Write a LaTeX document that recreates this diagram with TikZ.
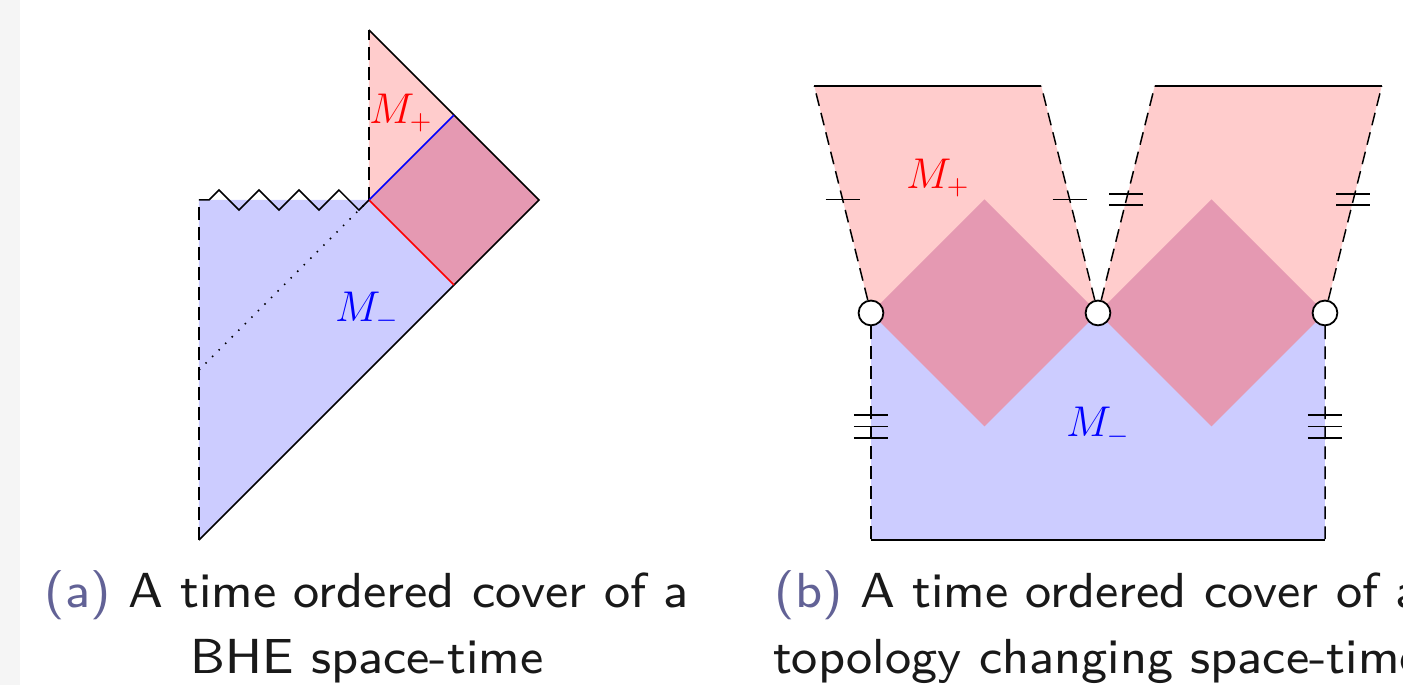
\documentclass[tikz,border=0pt]{standalone}
\usetikzlibrary{calc}
\definecolor{capcol}{RGB}{98,98,150}
\newcommand{\legtxt}[1]{\scalebox{2.06}{\fontsize{8}{10}\selectfont\sffamily #1}}
\begin{document}
\begin{tikzpicture}[line width=0.5pt]
    \useasboundingbox (-2.341,-1.706) rectangle (14.165,6.353);
    \fill[gray!8] (-2.341,-1.706) rectangle (-2.106,6.353);

    \tikzstyle{bord}=[dash pattern=on 4.3pt off 2.4pt]
    \tikzstyle{pointille}=[dash pattern=on 0.5pt off 2.6pt]
    \tikzstyle{lab}=[font=\fontsize{13.4}{16}\selectfont]
    \tikzstyle{legende}=[text=black!90,inner sep=0pt,anchor=base]
    \tikzstyle{trou}=[circle,draw,fill=white,line width=0.6pt,inner sep=0pt,minimum size=8.3pt]
    \tikzstyle{marque}=[line width=0.6pt]

    %%%%%%%%%%%%%%%%%%%%%%%%%%%%%%%%%%%%%% (a) BHE
    \fill[blue!20] (0,0)--(0,4)--(2,4)--(3,3)--cycle;
    \fill[red!20] (2,4)--(2,6)--(3,5)--cycle;
    \fill[purple!40] (2,4)--(3,5)--(4,4)--(3,3)--cycle;

    \draw[bord] (0,0)--(0,4);
    \draw[bord] (2,4)--(2,6);
    \draw (0,0)--(4,4)--(2,6);
    \draw[blue] (2,4)--(3,5);
    \draw[red] (2,4)--(3,3);
    \draw[pointille] (0,2)--(2,4);
    \draw (0,4)--(0.1176,4) \foreach \k in {1,...,4}{ --++(0.1176,0.1176) --++(0.2353,-0.2353) --++(0.1176,0.1176)};

    \node[lab,red] (mpa) at (2.376,5.024) {$M_+$};
    \node[lab,blue] (mma) at (1.976,2.694) {$M_-$};

    %%%%%%%%%%%%%%%%%%%%%%%%%%%%%%%%%%%%%% (b) topologie
    \begin{scope}[shift={(7.906,2.671)},scale=1.3353]
    \fill[blue!20] (0,0) rectangle (4,-2);
    \fill[red!20] (0,0)--(-0.5,2)--(1.5,2)--(2,0)--cycle;
    \fill[red!20] (2,0)--(2.5,2)--(4.5,2)--(4,0)--cycle;
    \fill[purple!40] (0,0)--(1,1)--(2,0)--(1,-1)--cycle;
    \fill[purple!40] (2,0)--(3,1)--(4,0)--(3,-1)--cycle;

    \node[trou] (p1) at (0,0) {};
    \node[trou] (p2) at (2,0) {};
    \node[trou] (p3) at (4,0) {};
    \coordinate (h1) at (-0.5,2);
    \coordinate (h2) at (1.5,2);
    \coordinate (h3) at (2.5,2);
    \coordinate (h4) at (4.5,2);
    \coordinate (b1) at (0,-2);
    \coordinate (b2) at (4,-2);

    \draw (h1)--(h2);
    \draw (h3)--(h4);
    \draw (b1)--(b2);
    \draw[bord] (p1)--(h1);
    \draw[bord] (p2)--(h2);
    \draw[bord] (p2)--(h3);
    \draw[bord] (p3)--(h4);
    \draw[bord] (p1)--(b1);
    \draw[bord] (p3)--(b2);

    % recollements
    \foreach \x in {-0.25,1.75} \draw[marque] (\x-0.15,1)--(\x+0.15,1);
    \foreach \x in {2.25,4.25} \foreach \y in {0.95,1.05} \draw[marque] (\x-0.15,\y)--(\x+0.15,\y);
    \foreach \x in {0,4} \foreach \y in {-1.1,-1,-0.9} \draw[marque] (\x-0.15,\y)--(\x+0.15,\y);

    \node[lab,red] (mpb) at (0.59,1.19) {$M_+$};
    \node[lab,blue] (mmb) at (2,-1) {$M_-$};
    \end{scope}

    %%%%%%%%%%%%%%%%%%%%%%%%%%%%%%%%%%%%%% Legendes
    \node[legende] (capa1) at (1.976,-0.800) {\legtxt{\textcolor{capcol}{(a)} A time ordered cover of a}};
    \node[legende] (capa2) at (1.976,-1.565) {\legtxt{BHE space-time}};
    \node[legende] (capb1) at (10.576,-0.800) {\legtxt{\textcolor{capcol}{(b)} A time ordered cover of a}};
    \node[legende] (capb2) at (10.576,-1.565) {\legtxt{topology changing space-time}};
\end{tikzpicture}
\end{document}
